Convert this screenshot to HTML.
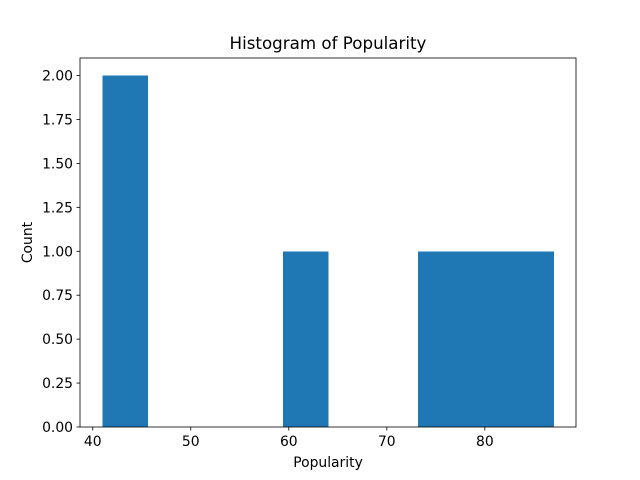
<!DOCTYPE html>
<html><head><meta charset="utf-8"><style>body{margin:0;background:#fff}svg{display:block}text{font-family:"DejaVu Sans","Liberation Sans",sans-serif;fill:#000}</style></head>
<body>
<svg id="chart" width="640" height="480"></svg>
<script>
const binEdges = [41, 45.6, 50.2, 54.8, 59.4, 64, 68.6, 73.2, 77.8, 82.4, 87];
const counts = [2, 0, 0, 0, 1, 0, 0, 1, 1, 1];
const xTicks = [40, 50, 60, 70, 80];
const yTicks = ["0.00","0.25","0.50","0.75","1.00","1.25","1.50","1.75","2.00"];
const NS = "http://www.w3.org/2000/svg";
const svg = document.getElementById("chart");
const L=80,R=576,T=58,B=427;
const xmin=38.7,xmax=89.3,ymin=0,ymax=2.1;
const xs=v=>L+(v-xmin)/(xmax-xmin)*(R-L);
const ys=v=>B-(v-ymin)/(ymax-ymin)*(B-T);
function mk(tag,attrs,txt){const e=document.createElementNS(NS,tag);for(const k in attrs)e.setAttribute(k,attrs[k]);if(txt!==undefined)e.textContent=txt;svg.appendChild(e);return e;}
counts.forEach((c,i)=>{if(c<=0)return;
 const r=mk("rect",{x:xs(binEdges[i]),y:ys(c),width:xs(binEdges[i+1])-xs(binEdges[i])+0.5,height:ys(0)-ys(c),fill:"#1f77b4","shape-rendering":"crispEdges"});
 
 
});
const f=mk("rect",{x:L,y:T,width:R-L,height:B-T,fill:"none",stroke:"#000","stroke-width":0.8});


xTicks.forEach(v=>{const x=xs(v);
 mk("line",{x1:x,x2:x,y1:B,y2:B+3.5,stroke:"#000","stroke-width":0.8});
 const t=mk("text",{x:x,y:B+19,"text-anchor":"middle","font-size":13.9},String(v));
 
 
});
yTicks.forEach(s=>{const y=ys(parseFloat(s));
 mk("line",{x1:L-3.5,x2:L,y1:y,y2:y,stroke:"#000","stroke-width":0.8});
 const t=mk("text",{x:L-7,y:y+5,"text-anchor":"end","font-size":13.9},s);
 
 
});
const ti=mk("text",{x:(L+R)/2,y:T-9,"text-anchor":"middle","font-size":16.7},"Histogram of Popularity");


const xl=mk("text",{x:(L+R)/2,y:467,"text-anchor":"middle","font-size":13.9},"Popularity");


const yl=mk("text",{x:32,y:(T+B)/2,"text-anchor":"middle","font-size":13.9,transform:`rotate(-90 32 ${(T+B)/2})`},"Count");


</script>
</body></html>
